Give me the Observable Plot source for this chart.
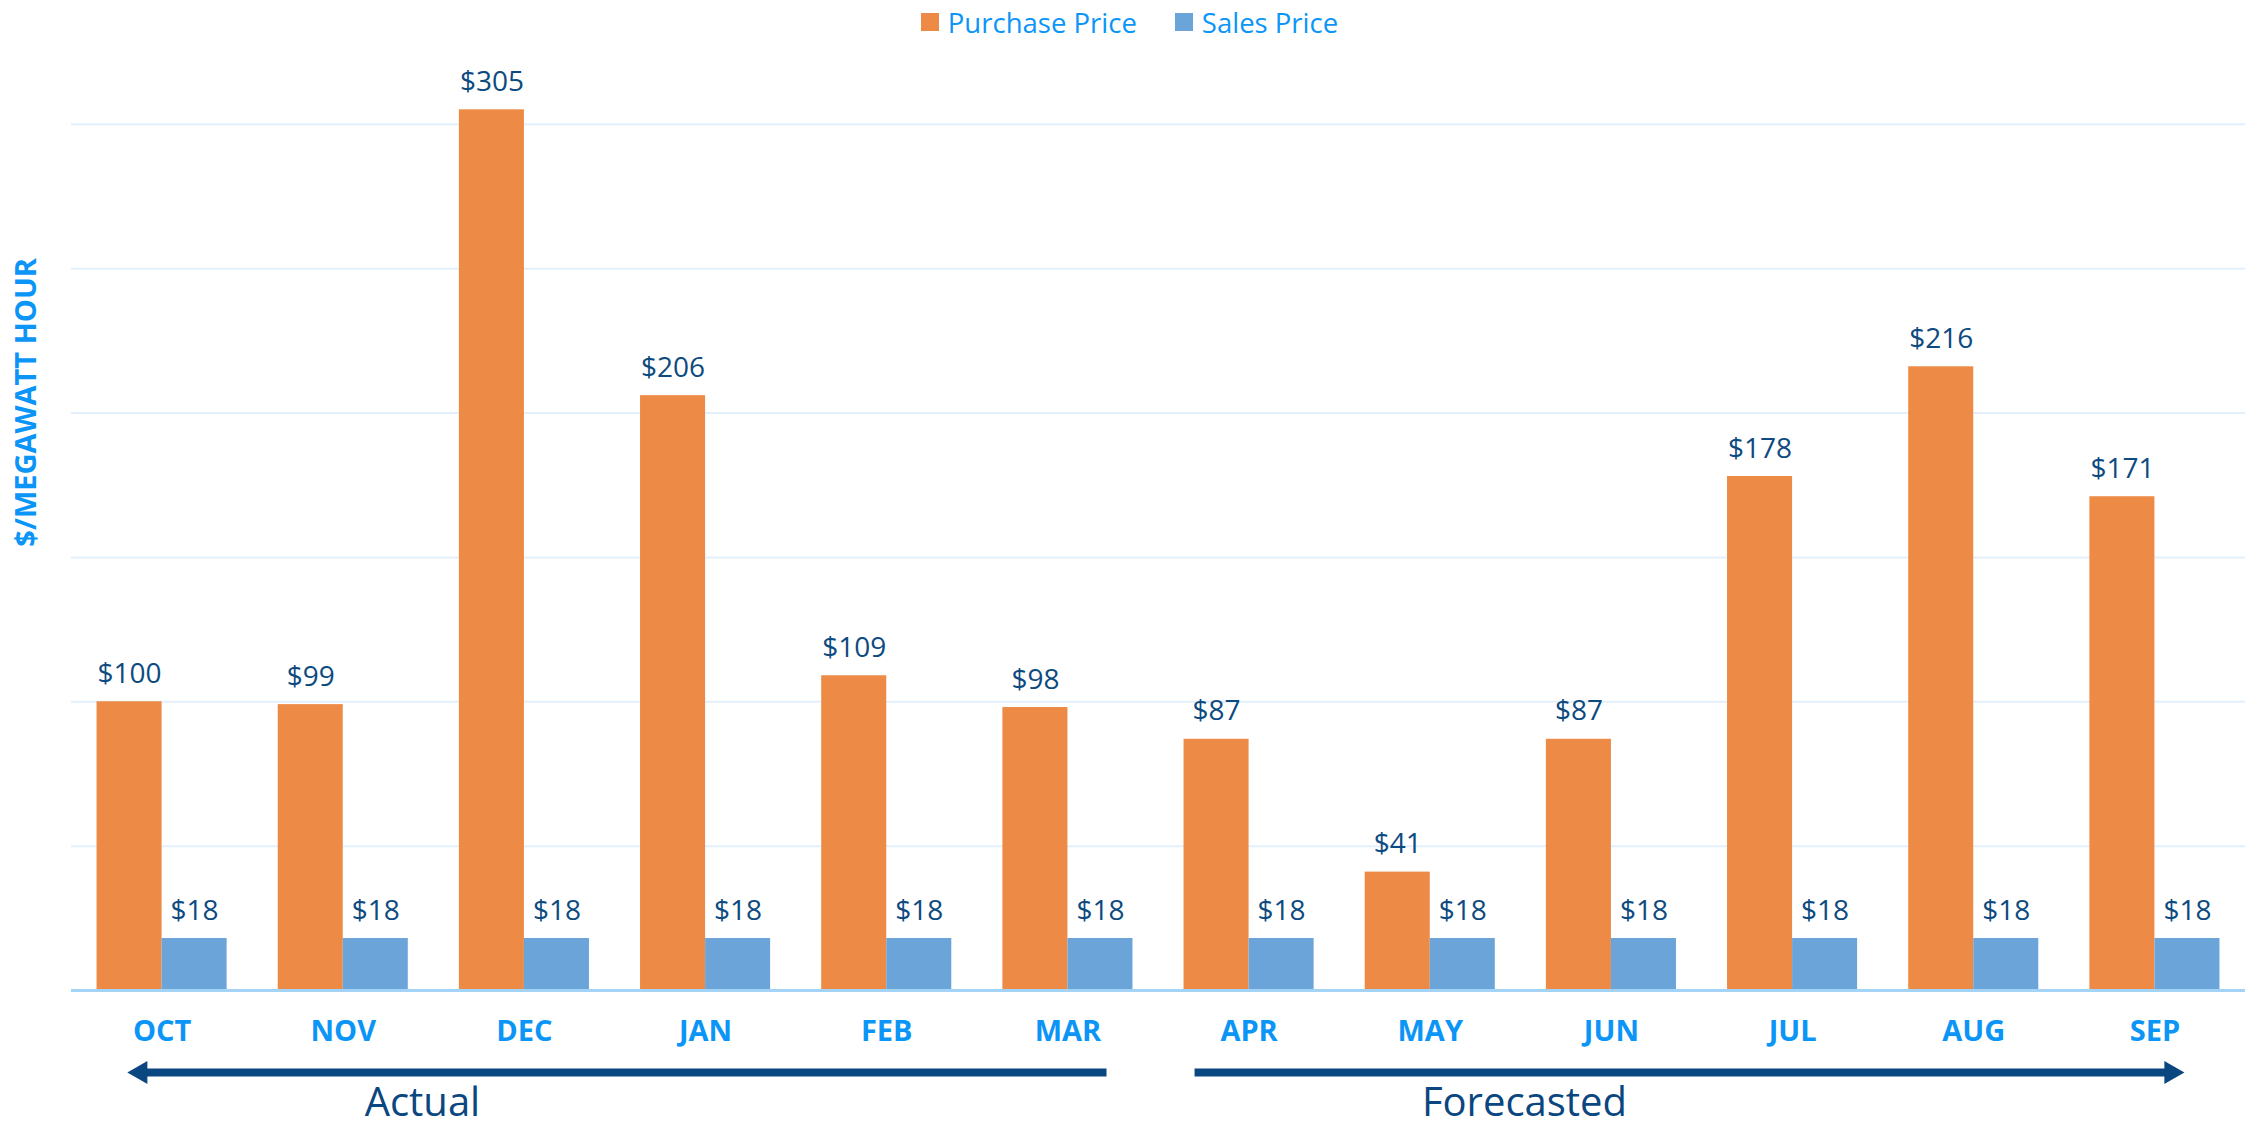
<!DOCTYPE html>
<html>
<head>
<meta charset="utf-8">
<script src="https://cdn.jsdelivr.net/npm/d3@7"></script>
<script src="https://cdn.jsdelivr.net/npm/@observablehq/plot@0.6"></script>
<style>
  html, body { margin: 0; padding: 0; background: #fff; }
  #legend { height: 44px; display: flex; justify-content: center; align-items: center;
            font-family: "Open Sans", "Noto Sans", sans-serif; font-size: 27.5px; color: #0b95f7; }
  .item { display: flex; align-items: center; margin: 0 19px; }
  .sw { width: 18px; height: 18px; margin-right: 9px; display: inline-block; }
  svg { display: block; }
  g[aria-label="y-title"] text { font-stretch: 75%; }
  g[aria-label="period"] text { font-stretch: 87.5%; }
</style>
</head>
<body>
<div id="legend"></div>
<div id="chart"></div>
<script>
// ---- data ----
const months = ["OCT", "NOV", "DEC", "JAN", "FEB", "MAR", "APR", "MAY", "JUN", "JUL", "AUG", "SEP"];
const purchasePrice = [100, 99, 305, 206, 109, 98, 87, 41, 87, 178, 216, 171];
const salesPrice = [18, 18, 18, 18, 18, 18, 18, 18, 18, 18, 18, 18];
const series = ["Purchase Price", "Sales Price"];
const gridValues = [50, 100, 150, 200, 250, 300];
const yLabel = "$/MEGAWATT HOUR";
const periodLabels = ["Actual", "Forecasted"];
// arrow extents in month-index units (from, to = head centre), label positions
const arrowFrom = [5.213, 5.699];
const arrowTo = [-0.118, 11.089];
const arrowDir = [-90, 90];
const labelAt = [1.437, 7.52];

// ---- styles ----
const ORANGE = "#ed8a45", BLUE = "#6ba4d8", TEXTBLUE = "#0b95f7", NAVY = "#0d4a80", ARROW = "#0a4680";
const SANS = "'Open Sans', 'Noto Sans', sans-serif";
const W = 0.359; // half group width in month units

const rows = months.flatMap((m, i) => [
  {i, m, s: series[0], v: purchasePrice[i], x1: i - W, x2: i},
  {i, m, s: series[1], v: salesPrice[i], x1: i, x2: i + W}
]);
const arrows = periodLabels.map((label, k) => ({label, from: arrowFrom[k], to: arrowTo[k], rot: arrowDir[k], lx: labelAt[k]}));
const ARROW_Y = -28.4, LABEL_Y = -43.6;

// legend
const colors = [ORANGE, BLUE];
document.getElementById("legend").innerHTML = series.map((s, k) =>
  `<span class="item"><span class="sw" style="background:${colors[k]}"></span>${s}</span>`).join("");

const chart = Plot.plot({
  width: 2259,
  height: 1083,
  marginLeft: 71,
  marginRight: 14,
  marginTop: 22,
  marginBottom: 137,
  x: {type: "linear", domain: [-0.5, 11.5], axis: null},
  y: {domain: [0, 320], axis: null},
  color: {domain: series, range: colors},
  marks: [
    Plot.gridY(gridValues, {stroke: "#e3f0fc", strokeOpacity: 1, strokeWidth: 2}),
    Plot.rectY(rows, {x1: "x1", x2: "x2", y: "v", fill: "s"}),
    Plot.ruleY([0], {stroke: "#a3d3f7", strokeWidth: 3}),
    Plot.text(rows, {x: d => (d.x1 + d.x2) / 2, y: "v", text: d => "$" + d.v, dy: -19, lineAnchor: "bottom",
      fontSize: 28, fill: NAVY, fontFamily: SANS}),
    Plot.axisX({ticks: d3.range(months.length), tickFormat: i => months[i], tickSize: 0, tickPadding: 30,
      fontSize: 29, fontWeight: "bold", fill: TEXTBLUE, fontFamily: SANS}),
    Plot.text([yLabel], {x: -0.748, y: 203.7, text: d => d, rotate: -90, ariaLabel: "y-title",
      fontSize: 29, fontWeight: "bold", fill: TEXTBLUE, fontFamily: SANS}),
    Plot.link(arrows, {x1: "from", x2: "to", y1: ARROW_Y, y2: ARROW_Y, stroke: ARROW, strokeWidth: 8}),
    Plot.dot(arrows, {x: "to", y: ARROW_Y, symbol: "triangle", r: 8.6, rotate: "rot", fill: ARROW, stroke: "none"}),
    Plot.text(arrows, {x: "lx", y: LABEL_Y, text: "label", lineAnchor: "bottom", ariaLabel: "period",
      fontSize: 40, fill: ARROW, fontFamily: SANS})
  ]
});
document.getElementById("chart").appendChild(chart);
</script>
</body>
</html>
